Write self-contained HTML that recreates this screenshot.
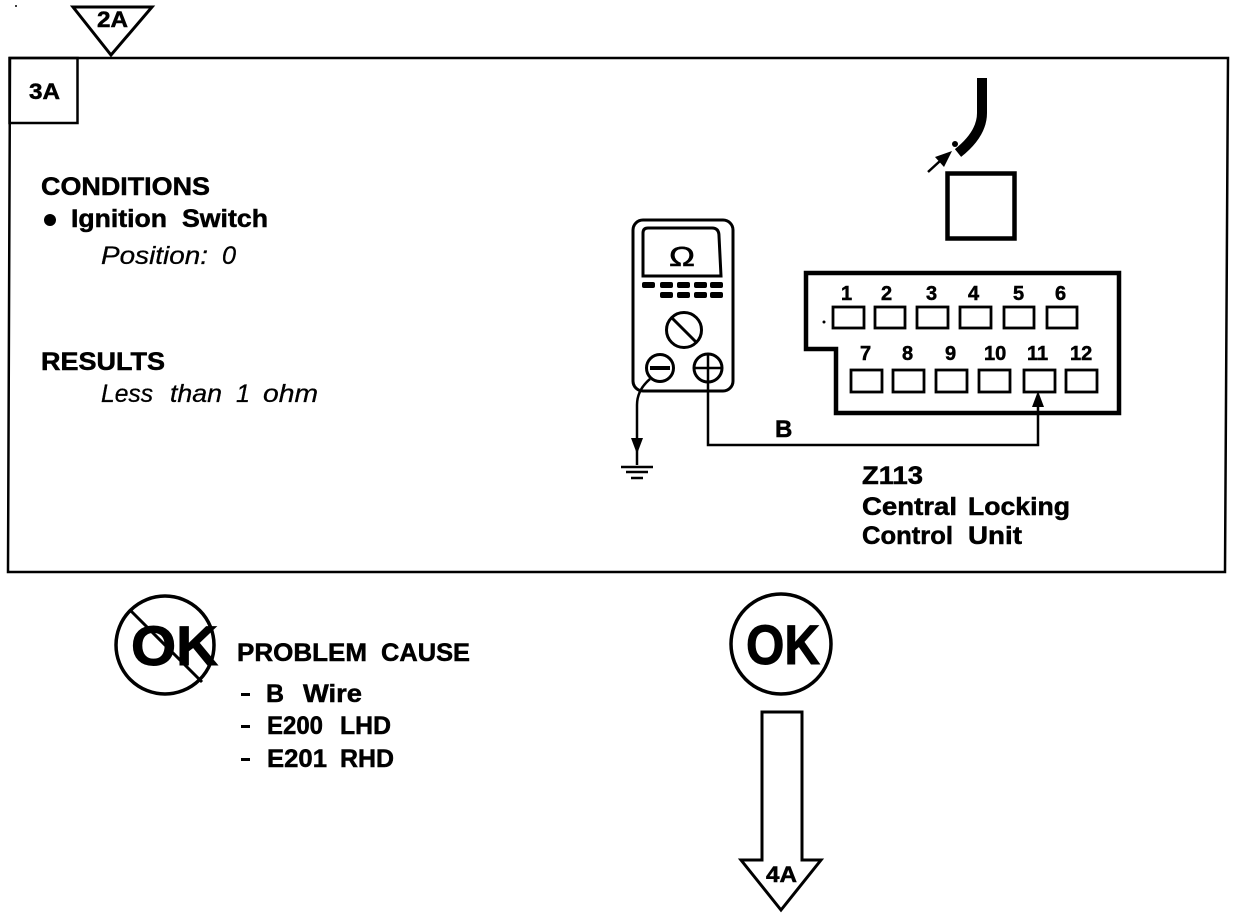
<!DOCTYPE html>
<html><head><meta charset="utf-8"><title>Diagnostic Step 3A</title>
<style>
html,body{margin:0;padding:0;background:#fff}
svg{display:block}
text{font-family:"Liberation Sans",Arial,sans-serif;font-weight:bold;fill:#000;stroke:#000;stroke-width:.5}
.i{font-style:italic;font-weight:normal;stroke-width:.3}
</style></head><body>
<svg width="1248" height="918" viewBox="0 0 1248 918" xmlns="http://www.w3.org/2000/svg">
<g fill="none" stroke="#000">
<polygon points="10,58 1228,58 1225,572 8,572" stroke-width="2.500"/>
<rect x="9.500" y="58" width="68" height="65" stroke-width="2.500"/>
<polygon points="73,7 152,7 111,55" stroke-width="3" fill="#fff"/>
<!-- cable -->
<path d="M982,78 V113 Q982,134 958,153" stroke-width="10"/>
<path d="M928,172 L940,161" stroke-width="2.500"/>
<rect x="947.500" y="173.500" width="67" height="65" stroke-width="4.500"/>
<!-- connector -->
<path d="M806,273 H1119 V413 H836 V349 H806 Z" stroke-width="4.500"/>
<g stroke-width="2.800">
<rect x="833" y="307" width="31" height="21"/><rect x="875" y="307" width="30" height="21"/><rect x="917" y="307" width="31" height="21"/><rect x="960" y="307" width="31" height="21"/><rect x="1004" y="307" width="30" height="21"/><rect x="1047" y="307" width="30" height="21"/>
<rect x="851" y="370" width="31" height="22"/><rect x="893" y="370" width="31" height="22"/><rect x="936" y="370" width="31" height="22"/><rect x="979" y="370" width="31" height="22"/><rect x="1024" y="370" width="31" height="22"/><rect x="1066" y="370" width="31" height="22"/>
</g>
<!-- meter -->
<rect x="633" y="220" width="100" height="171" rx="10" stroke-width="3"/>
<path d="M648,228 H712 Q719,228 719,236 L721,276 H643 V233 Q643,228 648,228Z" stroke-width="3"/>
<circle cx="684" cy="330" r="17.500" stroke-width="3"/>
<path d="M672,318 L696,342" stroke-width="3"/>
<circle cx="660" cy="368" r="13.500" stroke-width="3"/>
<circle cx="708" cy="368" r="14" stroke-width="3"/>
<path d="M694,368 H722 M708,354 V382" stroke-width="2.500"/>
<path d="M708,382 V445 H1038 V405" stroke-width="2.500"/>
<path d="M650,379 Q637,390 637,405 V465" stroke-width="2.500"/>
<path d="M621,467 H653 M626,472 H648 M631,478 H643" stroke-width="2.500"/>
<!-- OK symbols -->
<circle cx="165" cy="645" r="49" stroke-width="3.500"/>
<path d="M130,610 L202,682" stroke-width="3"/>
<circle cx="781" cy="644" r="50" stroke-width="3.500"/>
<!-- big arrow -->
<path d="M762,712 H802 V860 H821 L781,910 L741,860 H762 Z" stroke-width="3"/>
</g>
<g fill="#000">
<path d="M650,368 H670" stroke="#000" stroke-width="4"/>
<path d="M631,438 H643 L637,454 Z"/>
<path d="M1038,391 L1044,407 H1032 Z"/>
<path d="M952,151 L935,157 L944,167 Z"/>
<circle cx="955" cy="144" r="3"/>
<circle cx="50" cy="220" r="6"/>
<circle cx="16" cy="6" r="1"/>
<circle cx="824" cy="322" r="1.500"/>
<rect x="642" y="282" width="13" height="6" rx="2"/><rect x="660" y="282" width="13" height="6" rx="2"/><rect x="677" y="282" width="13" height="6" rx="2"/><rect x="694" y="282" width="13" height="6" rx="2"/><rect x="710" y="282" width="13" height="6" rx="2"/>
<rect x="660" y="292" width="13" height="6" rx="2"/><rect x="677" y="292" width="13" height="6" rx="2"/><rect x="694" y="292" width="13" height="6" rx="2"/><rect x="710" y="292" width="13" height="6" rx="2"/>
<rect x="241" y="693" width="9" height="3"/><rect x="241" y="725" width="9" height="3"/><rect x="241" y="758" width="9" height="3"/>
</g>
<text x="97" y="27" font-size="22" textLength="31" lengthAdjust="spacingAndGlyphs">2A</text>
<text x="29" y="99" font-size="22" textLength="31" lengthAdjust="spacingAndGlyphs">3A</text>
<text x="41" y="195" font-size="25" textLength="169" lengthAdjust="spacingAndGlyphs">CONDITIONS</text>
<text x="71" y="227" font-size="25" textLength="96" lengthAdjust="spacingAndGlyphs">Ignition</text>
<text x="182" y="227" font-size="25" textLength="86" lengthAdjust="spacingAndGlyphs">Switch</text>
<text class="i" x="101" y="264" font-size="25" textLength="107" lengthAdjust="spacingAndGlyphs">Position:</text>
<text class="i" x="222" y="264" font-size="25" textLength="14" lengthAdjust="spacingAndGlyphs">0</text>
<text x="41" y="370" font-size="25" textLength="124" lengthAdjust="spacingAndGlyphs">RESULTS</text>
<text class="i" x="101" y="402" font-size="25" textLength="52" lengthAdjust="spacingAndGlyphs">Less</text>
<text class="i" x="170" y="402" font-size="25" textLength="52" lengthAdjust="spacingAndGlyphs">than</text>
<text class="i" x="236" y="402" font-size="25" textLength="14" lengthAdjust="spacingAndGlyphs">1</text>
<text class="i" x="263" y="402" font-size="25" textLength="55" lengthAdjust="spacingAndGlyphs">ohm</text>
<text x="669" y="266" font-size="28" textLength="26" lengthAdjust="spacingAndGlyphs" style="font-weight:normal;stroke-width:.6">Ω</text>
<g font-size="20">
<text x="841" y="300">1</text><text x="881" y="300">2</text><text x="926" y="300">3</text><text x="968" y="300">4</text><text x="1013" y="300">5</text><text x="1055" y="300">6</text>
<text x="860" y="360">7</text><text x="902" y="360">8</text><text x="945" y="360">9</text><text x="984" y="360">10</text><text x="1027" y="360">11</text><text x="1070" y="360">12</text>
</g>
<text x="775" y="437" font-size="24">B</text>
<text x="862" y="484" font-size="25" textLength="61" lengthAdjust="spacingAndGlyphs">Z113</text>
<text x="862" y="515" font-size="25" textLength="95" lengthAdjust="spacingAndGlyphs">Central</text>
<text x="968" y="515" font-size="25" textLength="102" lengthAdjust="spacingAndGlyphs">Locking</text>
<text x="862" y="544" font-size="25" textLength="91" lengthAdjust="spacingAndGlyphs">Control</text>
<text x="968" y="544" font-size="25" textLength="54" lengthAdjust="spacingAndGlyphs">Unit</text>
<text x="131" y="665" font-size="56" textLength="87" lengthAdjust="spacingAndGlyphs" style="stroke-width:1">OK</text>
<text x="746" y="664" font-size="56" textLength="74" lengthAdjust="spacingAndGlyphs" style="stroke-width:1">OK</text>
<text x="237" y="661" font-size="25" textLength="130" lengthAdjust="spacingAndGlyphs">PROBLEM</text>
<text x="381" y="661" font-size="25" textLength="89" lengthAdjust="spacingAndGlyphs">CAUSE</text>
<text x="266" y="702" font-size="25" textLength="18" lengthAdjust="spacingAndGlyphs">B</text>
<text x="303" y="702" font-size="25" textLength="59" lengthAdjust="spacingAndGlyphs">Wire</text>
<text x="267" y="734" font-size="25" textLength="56" lengthAdjust="spacingAndGlyphs">E200</text>
<text x="340" y="734" font-size="25" textLength="51" lengthAdjust="spacingAndGlyphs">LHD</text>
<text x="267" y="767" font-size="25" textLength="60" lengthAdjust="spacingAndGlyphs">E201</text>
<text x="340" y="767" font-size="25" textLength="54" lengthAdjust="spacingAndGlyphs">RHD</text>
<text x="766" y="882" font-size="22" textLength="31" lengthAdjust="spacingAndGlyphs">4A</text>
</svg>
</body></html>
